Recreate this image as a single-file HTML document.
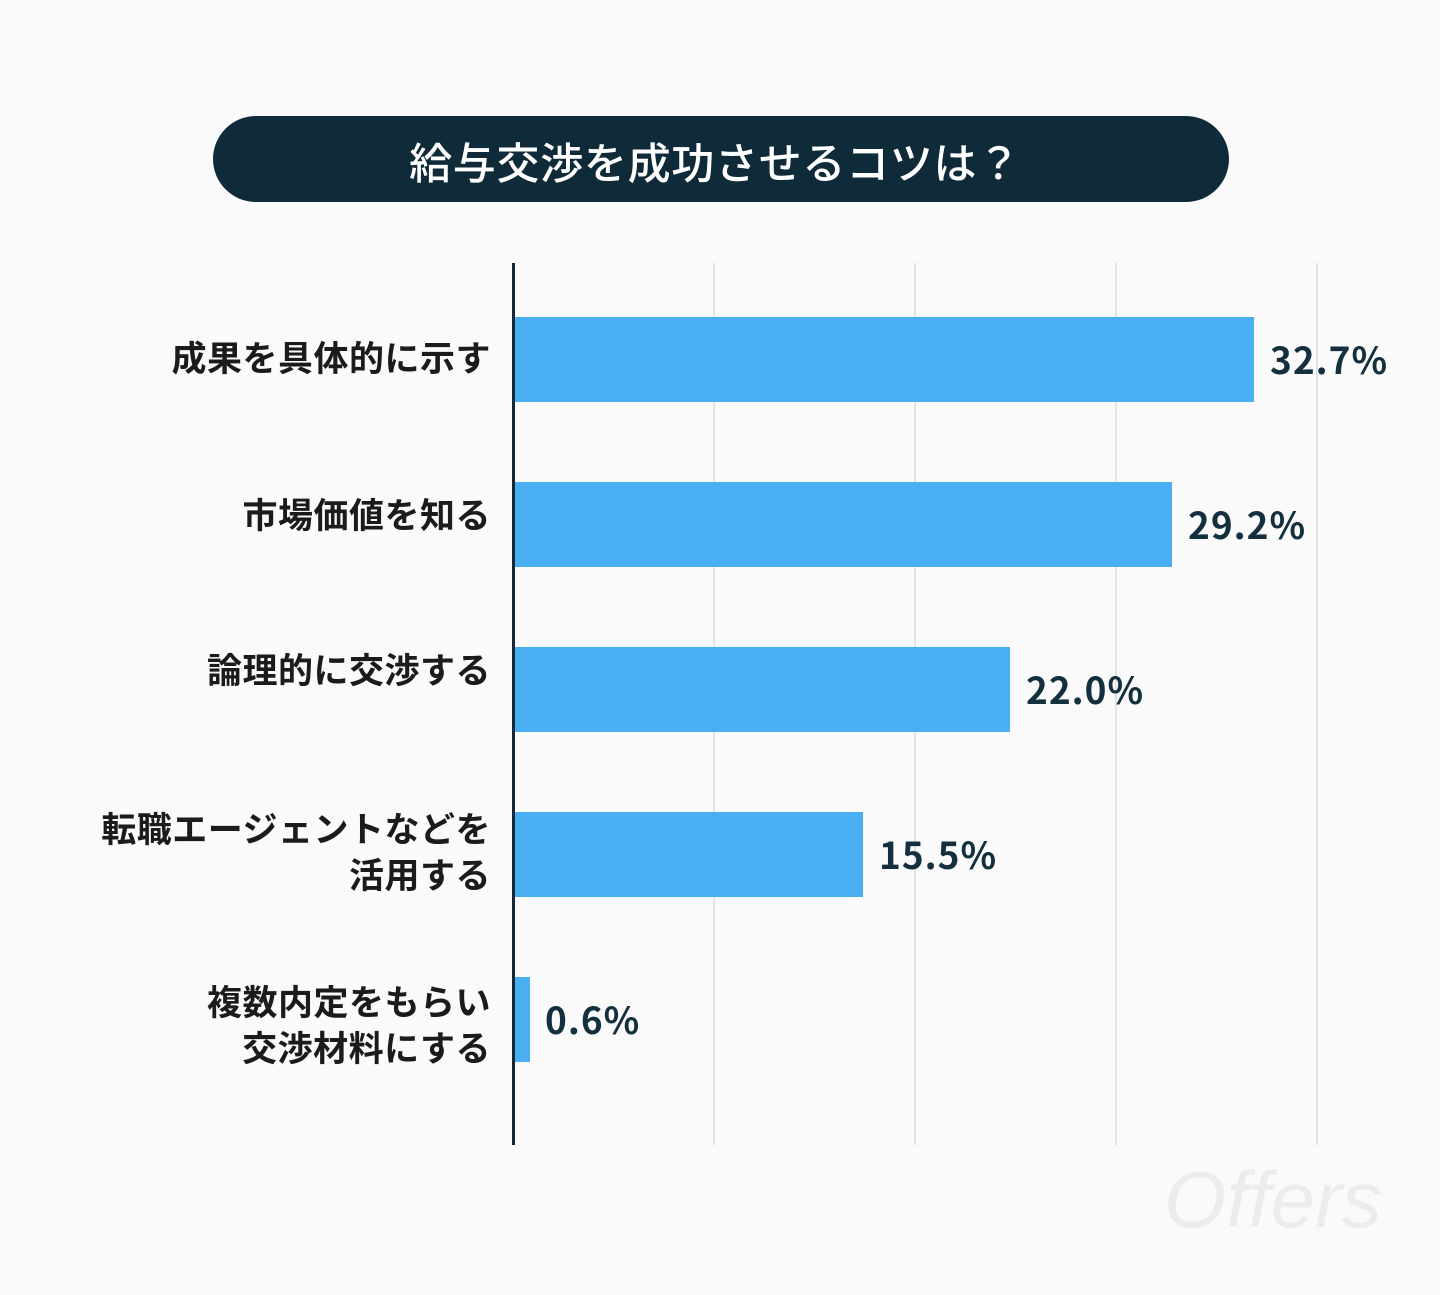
<!DOCTYPE html>
<html lang="ja">
<head>
<meta charset="utf-8">
<style>
  html, body { margin: 0; padding: 0; }
  body {
    width: 1440px; height: 1295px; position: relative; overflow: hidden;
    background: #fafafa;
    font-family: "Liberation Sans", "Noto Sans CJK JP", sans-serif;
  }
  .pill {
    position: absolute; left: 213px; top: 116px; width: 1016px; height: 86px;
    border-radius: 43px; background: #0f2a38;
    display: flex; align-items: center; justify-content: center;
  }
  .pill span {
    color: #ffffff; font-size: 43px; font-weight: 500; line-height: 43px;
    font-family: "Noto Sans CJK JP", sans-serif; letter-spacing: 0.7px;
    position: relative; top: 2px; left: -6px;
  }
  .grid { position: absolute; top: 263px; width: 2px; height: 882px; background: #e4e4e4; }
  .axis { position: absolute; left: 512px; top: 263px; width: 3px; height: 882px; background: #13293a; }
  .bar { position: absolute; left: 514px; height: 85px; background: #4aaef2; }
  .cat {
    position: absolute; right: 949px; text-align: right;
    font-family: "Noto Sans CJK JP", sans-serif; font-weight: 700;
    font-size: 35px; line-height: 46px; color: #1b1b1b; white-space: nowrap;
    letter-spacing: 0.5px;
  }
  .val {
    position: absolute; font-family: "Noto Sans CJK JP", sans-serif; font-weight: 700;
    font-size: 37px; line-height: 37px; color: #14303e; letter-spacing: 1px; white-space: nowrap;
  }
  .wm {
    position: absolute; left: 1164px; top: 1160px; font-size: 80px; line-height: 80px;
    font-style: italic; color: #ececec; font-family: "Liberation Sans", sans-serif;
    letter-spacing: 0px;
  }
</style>
</head>
<body>
  <div class="pill"><span>給与交渉を成功させるコツは？</span></div>

  <div class="grid" style="left:713px"></div>
  <div class="grid" style="left:914px"></div>
  <div class="grid" style="left:1115px"></div>
  <div class="grid" style="left:1316px"></div>

  <div class="bar" style="top:317px; width:740px"></div>
  <div class="bar" style="top:482px; width:658px"></div>
  <div class="bar" style="top:647px; width:496px"></div>
  <div class="bar" style="top:812px; width:349px"></div>
  <div class="bar" style="top:977px; width:16px"></div>

  <div class="axis"></div>

  <div class="cat" style="top:334px">成果を具体的に示す</div>
  <div class="cat" style="top:491px">市場価値を知る</div>
  <div class="cat" style="top:646px">論理的に交渉する</div>
  <div class="cat" style="top:805px">転職エージェントなどを<br>活用する</div>
  <div class="cat" style="top:978px">複数内定をもらい<br>交渉材料にする</div>

  <div class="val" style="left:1270px; top:340px">32.7%</div>
  <div class="val" style="left:1188px; top:505px">29.2%</div>
  <div class="val" style="left:1026px; top:670px">22.0%</div>
  <div class="val" style="left:879px; top:835px">15.5%</div>
  <div class="val" style="left:545px; top:1000px">0.6%</div>

  <div class="wm">Offers</div>
</body>
</html>
